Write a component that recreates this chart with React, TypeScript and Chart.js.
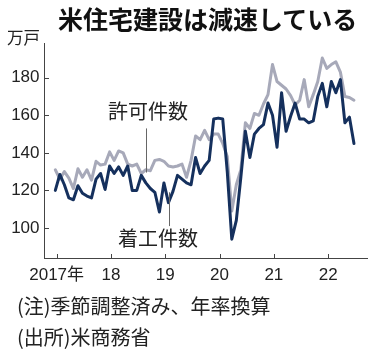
import React, { useEffect, useRef } from "react";
import { Chart, registerables } from "chart.js";

Chart.register(...registerables);

// Monthly values, Jan 2017 – Jul 2022 (万戸, seasonally adjusted annual rate)
const starts2017 = [120, 128.5, 123, 116, 115, 122.5, 118.5, 117, 116, 126, 129, 120.5];
const starts2018 = [133, 129, 132.5, 128, 133, 120, 120, 128, 124, 121, 119, 108.5];
const starts2019 = [124, 113.5, 119.5, 128, 126, 124, 123, 137.5, 129, 133, 136, 158];
const starts2020 = [158.5, 158, 130, 94, 104, 127, 151.5, 137.5, 150, 153, 155, 166.5];
const starts2021 = [160, 143, 172, 151.5, 159.5, 166.5, 158, 158, 156, 157, 170, 177];
const starts2022 = [164.5, 178, 172, 179, 156, 159, 145];

const permits2017 = [131, 126, 130, 126.5, 121, 131.5, 127, 131, 125.5, 135.5, 133.5, 134];
const permits2018 = [140.5, 136, 141, 140, 134, 133, 134, 129, 131, 130.5, 136, 136.5];
const permits2019 = [135.5, 133, 132.5, 133, 134, 127, 136, 149, 147, 152, 147, 150];
const permits2020 = [150, 145, 138, 109, 123, 131, 156, 153, 161, 160, 166, 171];
const permits2021 = [187, 178, 176, 174, 170.5, 165.5, 168, 179, 164.5, 171, 178, 190.5];
const permits2022 = [185, 187, 188.5, 183, 170, 169.5, 168];

const starts = [...starts2017, ...starts2018, ...starts2019, ...starts2020, ...starts2021, ...starts2022];
const permits = [...permits2017, ...permits2018, ...permits2019, ...permits2020, ...permits2021, ...permits2022];

const yearLabels = ["2017年", "18", "19", "20", "21", "22"];
const yTicks = [100, 120, 140, 160, 180];

const NAVY = "#15305d";
const GRAY = "#a7a9b9";
const AXIS = "#444";
const TICK_FONT = "'Liberation Sans', 'Noto Sans CJK JP', sans-serif";
const CJK = "'Noto Sans CJK JP', 'Liberation Sans', sans-serif";
const TICK_OFFSET = 0.3;

export default function App() {
  const ref = useRef<HTMLCanvasElement | null>(null);

  useEffect(() => {
    if (!ref.current) return;
    const toXY = (arr: number[]) => arr.map((v, i) => ({ x: i, y: v }));

    const decor = {
      id: "decor",
      afterDraw(chart: any) {
        const { ctx, scales } = chart;
        const xs = scales.x;
        const ys = scales.y;
        ctx.save();
        ctx.strokeStyle = AXIS;
        ctx.lineWidth = 1;
        // y tick marks (inward)
        yTicks.forEach((v) => {
          const py = Math.round(ys.getPixelForValue(v)) + 0.5;
          ctx.beginPath();
          ctx.moveTo(xs.left, py);
          ctx.lineTo(xs.left + 5, py);
          ctx.stroke();
        });
        // x tick marks (inward)
        yearLabels.forEach((_, k) => {
          const px = Math.round(xs.getPixelForValue(k * 12 + TICK_OFFSET)) + 0.5;
          ctx.beginPath();
          ctx.moveTo(px, ys.bottom);
          ctx.lineTo(px, ys.bottom - 4);
          ctx.stroke();
        });
        // leader lines for annotations
        ctx.strokeStyle = "#666";
        const lx1 = Math.round(xs.getPixelForValue(20)) + 0.5;
        ctx.beginPath();
        ctx.moveTo(lx1, ys.getPixelForValue(153));
        ctx.lineTo(lx1, ys.getPixelForValue(129.5));
        ctx.stroke();
        const lx2 = Math.round(xs.getPixelForValue(25.2)) + 0.5;
        ctx.beginPath();
        ctx.moveTo(lx2, ys.getPixelForValue(119));
        ctx.lineTo(lx2, ys.getPixelForValue(101));
        ctx.stroke();
        ctx.restore();
      },
    };

    const chart = new Chart(ref.current, {
      type: "line",
      data: {
        datasets: [
          {
            label: "着工件数",
            data: toXY(starts),
            borderColor: NAVY,
            borderWidth: 3,
            pointRadius: 0,
            tension: 0,
            borderJoinStyle: "round",
            borderCapStyle: "round",
          },
          {
            label: "許可件数",
            data: toXY(permits),
            borderColor: GRAY,
            borderWidth: 3,
            pointRadius: 0,
            tension: 0,
            borderJoinStyle: "round",
            borderCapStyle: "round",
          },
        ],
      },
      options: {
        animation: false,
        responsive: false,
        maintainAspectRatio: false,
        devicePixelRatio: 1,
        layout: { padding: { top: 43, right: 11, left: 0, bottom: 0 } },
        plugins: { legend: { display: false }, tooltip: { enabled: false } },
        scales: {
          x: {
            type: "linear",
            min: -2.5,
            max: 68.88,
            grid: { display: false, drawTicks: false },
            border: { display: true, color: AXIS, width: 1 },
            afterBuildTicks: (scale: any) => {
              scale.ticks = yearLabels.map((_, k) => ({ value: k * 12 + TICK_OFFSET }));
            },
            afterFit: (scale: any) => {
              scale.height = 97;
            },
            ticks: {
              autoSkip: false,
              maxRotation: 0,
              padding: 7,
              color: "#222",
              font: { family: TICK_FONT, size: 17 },
              callback: (v: any) => yearLabels[Math.round((Number(v) - TICK_OFFSET) / 12)] ?? "",
            },
          },
          y: {
            min: 84,
            max: 198.5,
            grid: { display: false, drawTicks: false },
            border: { display: true, color: AXIS, width: 1 },
            afterBuildTicks: (scale: any) => {
              scale.ticks = yTicks.map((v) => ({ value: v }));
            },
            afterFit: (scale: any) => {
              scale.width = 44;
            },
            ticks: {
              padding: 4.5,
              color: "#222",
              font: { family: TICK_FONT, size: 17 },
            },
          },
        },
      },
      plugins: [decor],
    });
    return () => chart.destroy();
  }, []);

  const abs = (extra: React.CSSProperties): React.CSSProperties => ({
    position: "absolute",
    whiteSpace: "nowrap",
    fontFamily: CJK,
    color: "#222",
    margin: 0,
    ...extra,
  });

  return (
    <div style={{ position: "relative", width: 378, height: 355, background: "#fff", overflow: "hidden" }}>
      <style>{`body{margin:0;background:#fff}`}</style>
      <canvas ref={ref} width={378} height={355} style={{ position: "absolute", left: 0, top: 0, width: 378, height: 355 }} />
      <div style={abs({ left: 58, top: 6, fontSize: 25, lineHeight: "25px", fontWeight: 700, color: "#111" })}>
        米住宅建設は減速している
      </div>
      <div style={abs({ left: 7, top: 29, fontSize: 16.5, lineHeight: "16.5px" })}>万戸</div>
      <div style={abs({ left: 108, top: 100.5, fontSize: 20, lineHeight: "20px" })}>許可件数</div>
      <div style={abs({ left: 118, top: 228, fontSize: 20, lineHeight: "20px" })}>着工件数</div>
      <div style={abs({ left: 17, top: 295.5, fontSize: 20, lineHeight: "20px" })}>(注)季節調整済み、年率換算</div>
      <div style={abs({ left: 17, top: 327, fontSize: 20, lineHeight: "20px" })}>(出所)米商務省</div>
    </div>
  );
}
